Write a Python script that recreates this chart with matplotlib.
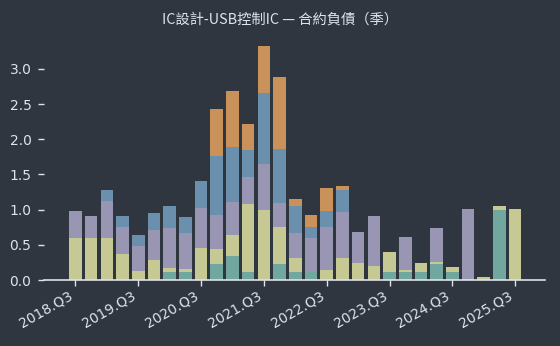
import numpy as np
import matplotlib
matplotlib.use("Agg")
import matplotlib.pyplot as plt

plt.rcParams['font.family'] = ['Noto Sans CJK TC', 'DejaVu Sans']

# ======================== DATA ========================
quarters = [f"{y}.Q{q}" for y in range(2018, 2026) for q in range(1, 5)][2:31]  # 2018.Q3 .. 2025.Q3

teal = [0, 0, 0, 0, 0, 0, 0.12, 0.12, 0, 0.23, 0.34, 0.11, 0, 0.23, 0.11, 0.11,
        0, 0, 0, 0, 0.115, 0.12, 0.115, 0.23, 0.115, 0, 0, 1.0, 0]
yellow = [0.59, 0.60, 0.60, 0.37, 0.13, 0.29, 0.05, 0.03, 0.455, 0.21, 0.30, 0.97, 0.995, 0.525, 0.20, 0,
          0.14, 0.31, 0.24, 0.20, 0.285, 0.02, 0.125, 0.03, 0.07, 0.01, 0.04, 0.05, 1.01]
lavender = [0.39, 0.31, 0.52, 0.39, 0.35, 0.42, 0.565, 0.52, 0.575, 0.485, 0.465, 0.385, 0.655, 0.34, 0.36, 0.49,
            0.615, 0.66, 0.44, 0.71, 0, 0.47, 0, 0.48, 0, 1.0, 0, 0, 0]
blue = [0, 0, 0.16, 0.15, 0.16, 0.24, 0.315, 0.23, 0.38, 0.835, 0.785, 0.385, 1.005, 0.765, 0.38, 0.155,
        0.225, 0.31, 0, 0, 0, 0, 0, 0, 0, 0, 0, 0, 0]
orange = [0, 0, 0, 0, 0, 0, 0, 0, 0, 0.67, 0.80, 0.37, 0.665, 1.02, 0.10, 0.17,
          0.33, 0.06, 0, 0, 0, 0, 0, 0, 0, 0, 0, 0, 0]

series = [teal, yellow, lavender, blue, orange]
colors = ["#72a7a0", "#c6c994", "#9896b2", "#6b90ad", "#c8925a"]

# ======================== PLOT ========================
bg = "#2f3640"
fg = "#dfe3ea"

fig = plt.figure(figsize=(5.6, 3.46), dpi=100)
fig.patch.set_facecolor(bg)
ax = fig.add_axes([44 / 560, 1 - 280 / 346, (545 - 44) / 560, 240 / 346])
ax.set_facecolor(bg)

x = np.arange(len(quarters))
bottom = np.zeros(len(quarters))
for vals, c in zip(series, colors):
    vals = np.array(vals)
    ax.bar(x, vals, width=0.8, bottom=bottom, color=c, linewidth=0)
    bottom += vals

ax.set_xlim(-2.0, 29.9)
ax.set_ylim(0, 3.41)

ticks = x[::4]
ax.set_xticks(ticks)
ax.set_xticklabels([quarters[i] for i in ticks], rotation=30, ha="right",
                   fontsize=10, color=fg, family="DejaVu Sans")
ax.set_yticks([0, 0.5, 1.0, 1.5, 2.0, 2.5, 3.0])
ax.set_yticklabels(["0.0", "0.5", "1.0", "1.5", "2.0", "2.5", "3.0"],
                   fontsize=10, color=fg, family="DejaVu Sans")
ax.tick_params(axis="x", colors=fg, length=4, width=1, pad=2)
ax.tick_params(axis="y", colors=fg, length=4, width=1, pad=5)

for s in ["top", "right", "left"]:
    ax.spines[s].set_visible(False)
ax.spines["bottom"].set_color(fg)
ax.spines["bottom"].set_linewidth(1.2)

fig.text(0.5, 1 - 20 / 346, "IC設計-USB控制IC — 合約負債（季）", ha="center", va="center",
         fontsize=10.3, color=fg)

fig.savefig("out.png", dpi=100, facecolor=bg)
